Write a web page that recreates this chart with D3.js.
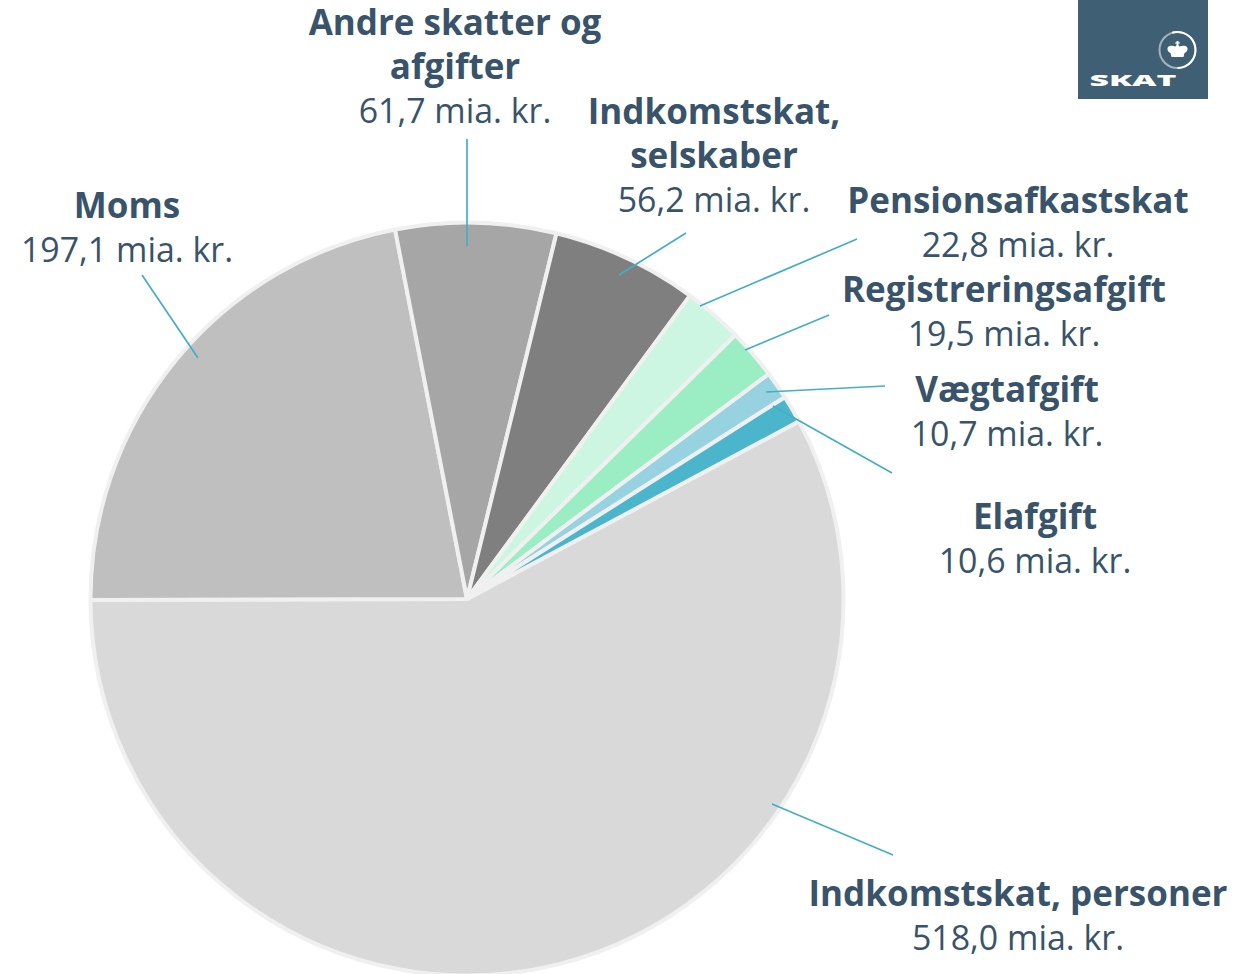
<!DOCTYPE html>
<html>
<head>
<meta charset="utf-8">
<script src="https://cdn.jsdelivr.net/npm/d3@7"></script>
<style>
  html, body { margin: 0; padding: 0; background: #fff; }
  text { font-family: "Open Sans", sans-serif; fill: #38536a; font-size: 33.9px; }
  .name { font-weight: 700; font-size: 35px; }
</style>
</head>
<body>
<div id="chart"></div>
<script>
// mia. kr.
const categories = ['Indkomstskat, personer', 'Moms', 'Andre skatter og afgifter', 'Indkomstskat, selskaber', 'Pensionsafkastskat', 'Registreringsafgift', 'Vægtafgift', 'Elafgift'];
const values = [518.0, 197.1, 61.7, 56.2, 22.8, 19.5, 10.7, 10.6];
const valueLabels = ['518,0 mia. kr.', '197,1 mia. kr.', '61,7 mia. kr.', '56,2 mia. kr.', '22,8 mia. kr.', '19,5 mia. kr.', '10,7 mia. kr.', '10,6 mia. kr.'];
const colors = ['#d9d9d9', '#bfbfbf', '#a6a6a6', '#7f7f7f', '#ccf5e2', '#9bedc4', '#96d2e0', '#4bb5cb'];

const size = { width: 1241, height: 974 };
const center = { x: 467, y: 599 };
const radius = 376.5;

const svg = d3.select('#chart').append('svg').attr('width', size.width).attr('height', size.height);

/*
   Pie: Moms ends exactly at the horizontal on the left
 */
const startAngle = (Math.PI / 180) * 61.85;
const pie = d3.pie().value((d) => d).sort(null).startAngle(startAngle).endAngle(startAngle + 2 * Math.PI);
const arc = d3.arc().innerRadius(0).outerRadius(radius);

svg
  .append('g')
  .attr('transform', `translate(${center.x}, ${center.y})`)
  .selectAll('path')
  .data(pie(values))
  .enter()
  .append('path')
  .attr('d', arc)
  .attr('fill', (d, i) => colors[i])
  .attr('stroke', '#f0f0f0')
  .attr('stroke-width', 4)
  .attr('stroke-linejoin', 'round');

/*
   Labels: name lines, then the value, with a leader line
 */
const nameLines = [['Indkomstskat, personer'], ['Moms'], ['Andre skatter og', 'afgifter'], ['Indkomstskat,', 'selskaber'], ['Pensionsafkastskat'], ['Registreringsafgift'], ['Vægtafgift'], ['Elafgift']];
const labelX = [1018, 127, 455, 714, 1018, 1004, 1007, 1035];
const labelY = [906, 218, 35, 124, 213, 302, 402, 529];
const leaders = [
  [[772, 804], [893, 855]],
  [[198, 358], [142, 275]],
  [[467, 246], [467, 139]],
  [[619, 275], [686, 233]],
  [[700, 306], [857, 239]],
  [[745, 350], [829, 315]],
  [[766, 392], [885, 386]],
  [[773, 406], [892, 473]],
];

const lineHeight = 44.2;
const labels = svg.append('g');
categories.forEach((c, i) => {
  labels
    .append('path')
    .attr('d', d3.line()(leaders[i]))
    .attr('fill', 'none')
    .attr('stroke', '#45aec4')
    .attr('stroke-width', 1.7);
  nameLines[i].forEach((t, j) => {
    labels
      .append('text')
      .attr('class', 'name')
      .attr('text-anchor', 'middle')
      .attr('x', labelX[i])
      .attr('y', labelY[i] + j * lineHeight)
      .text(t);
  });
  labels
    .append('text')
    .attr('text-anchor', 'middle')
    .attr('x', labelX[i])
    .attr('y', labelY[i] + nameLines[i].length * lineHeight)
    .text(valueLabels[i]);
});

/*
   Logo: Ring fades out on the left, crown in the middle
 */
const logo = svg.append('g').attr('transform', 'translate(1078, 0)');
logo.append('rect').attr('width', 130).attr('height', 99).attr('fill', '#3f5f75');
logo.append('circle').attr('cx', 99.5).attr('cy', 50).attr('r', 18).attr('fill', 'none').attr('stroke', '#a3b3be').attr('stroke-width', 2);
logo
  .append('path')
  .attr('transform', 'translate(99.5, 50)')
  .attr('d', d3.arc().innerRadius(17).outerRadius(19).startAngle(-0.3).endAngle(Math.PI))
  .attr('fill', '#fff');
logo
  .append('path')
  .attr('transform', 'translate(99.5, 50)')
  .attr('d', 'M-6 7 L6 7 L7 3 C10 2 11 -2 9 -3.5 C7 -5 4 -3.5 2 -3.5 L1 -5 L1 -6.5 L2.5 -6.5 L2.5 -7.5 L1 -7.5 L1 -9 L-1 -9 L-1 -7.5 L-2.5 -7.5 L-2.5 -6.5 L-1 -6.5 L-1 -5 L-2 -3.5 C-4 -3.5 -7 -5 -9 -3.5 C-11 -2 -10 2 -7 3 Z')
  .attr('fill', '#fff');
logo
  .append('text')
  .attr('x', 55)
  .attr('y', 86)
  .attr('text-anchor', 'middle')
  .style('fill', '#fff')
  .style('font-size', '15.5px')
  .style('font-weight', 800)
  .attr('textLength', 87)
  .attr('lengthAdjust', 'spacingAndGlyphs')
  .text('SKAT');
</script>
</body>
</html>
